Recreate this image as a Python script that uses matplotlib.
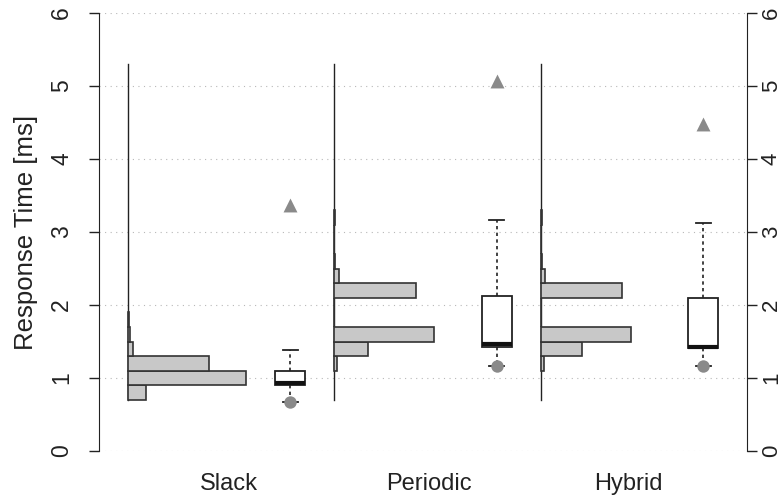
import numpy as np
import matplotlib
matplotlib.use("Agg")
import matplotlib.pyplot as plt

plt.rcParams['font.family'] = ['Liberation Sans', 'DejaVu Sans']

# categorias
grupos = ["Slack", "Periodic", "Hybrid"]

# histogramas (frequencia relativa), bins de 0.2 ms
bin_largura = 0.2
slack_inicio = 0.7
slack_freq = [0.079, 0.527, 0.362, 0.021, 0.010, 0.004]
periodic_inicio = 1.1
periodic_freq = [0.012, 0.150, 0.445, 0.0, 0.0, 0.366, 0.022, 0.004, 0.0, 0.0, 0.004]
hybrid_inicio = 1.1
hybrid_freq = [0.012, 0.184, 0.403, 0.0, 0.0, 0.362, 0.018, 0.004, 0.0, 0.0, 0.004]

# boxplots: minimo, q1, mediana, q3, whisker superior, maximo
minimos = [0.67, 1.17, 1.16]
q1 = [0.90, 1.42, 1.41]
medianas = [0.93, 1.46, 1.42]
q3 = [1.10, 2.12, 2.09]
whisk_sup = [1.38, 3.17, 3.13]
maximos = [3.37, 5.07, 4.48]

# faixa da linha base dos histogramas
faixa_base = (0.7, 5.3)

inicios = [slack_inicio, periodic_inicio, hybrid_inicio]
freqs = [slack_freq, periodic_freq, hybrid_freq]

escala_hist = 1.085
desloc_box = 0.786
cinza_barra = "#c8c8c8"
cinza_marca = "#8a8a8a"
cor_texto = "#222222"

fig = plt.figure(figsize=(7.83, 4.98), dpi=100)
ax = fig.add_axes([99 / 783, 47 / 498, 648 / 783, 438 / 498])
ax.set_xlim(-0.1404, 2.9976)
ax.set_ylim(0, 6)

# grade pontilhada
for yv in range(7):
    ax.axhline(yv, color="#b8b8b8", linestyle=(0, (1, 4)), linewidth=0.8, zorder=0)

for i in range(len(grupos)):
    f = np.array(freqs[i])
    base = inicios[i] + bin_largura * np.arange(len(f))
    ax.plot([i, i], faixa_base, color="#222222", linewidth=1.0, zorder=2)
    ax.barh(base, f * escala_hist, height=bin_largura, left=i, align="edge",
            color=cinza_barra, edgecolor="#333333", linewidth=1.2, zorder=3)

# boxplots
stats = []
for i in range(len(grupos)):
    stats.append(dict(med=medianas[i], q1=q1[i], q3=q3[i],
                      whislo=minimos[i], whishi=whisk_sup[i], fliers=[]))
pos = np.arange(len(grupos)) + desloc_box
ax.bxp(stats, positions=pos, widths=0.145, showfliers=False, patch_artist=True,
       boxprops=dict(facecolor="white", edgecolor="#222222", linewidth=1.3),
       medianprops=dict(color="#111111", linewidth=3.0),
       whiskerprops=dict(color="#222222", linestyle=(0, (2, 2)), linewidth=1.2),
       capprops=dict(color="#222222", linewidth=1.3), capwidths=0.072,
       manage_ticks=False, zorder=4)
ax.scatter(pos, minimos, marker="o", s=80, color=cinza_marca, zorder=5, linewidths=0)
ax.scatter(pos, maximos, marker="^", s=100, color=cinza_marca, zorder=5, linewidths=0)

# eixos estilo R
for lado in ["top", "bottom", "right"]:
    ax.spines[lado].set_visible(False)
ax.spines["left"].set_color("#222222")
ax.set_yticks(range(7))
ax.tick_params(axis="y", length=7.5, width=1.0, color="#222222", direction="out",
               labelsize=16.5, labelrotation=90, labelcolor=cor_texto, pad=11)
for lab in ax.get_yticklabels():
    lab.set_va("center")

ax2 = ax.twinx()
ax2.set_ylim(0, 6)
ax2.set_yticks(range(7))
for lado in ["top", "bottom", "left"]:
    ax2.spines[lado].set_visible(False)
ax2.spines["right"].set_color("#222222")
ax2.tick_params(axis="y", length=7.5, width=1.0, color="#222222", direction="out",
                labelsize=16, labelrotation=90, labelcolor=cor_texto, pad=2.5)
for lab in ax2.get_yticklabels():
    lab.set_va("center")

pos_rotulos = 0.49 + 0.966 * np.arange(len(grupos))
ax.set_xticks(pos_rotulos)
ax.set_xticklabels(grupos, fontsize=17, color=cor_texto)
ax.tick_params(axis="x", length=0, pad=16)

ax.set_ylabel("Response Time [ms]", fontsize=18.5, color=cor_texto, labelpad=9)

plt.savefig("out.png", dpi=100)
